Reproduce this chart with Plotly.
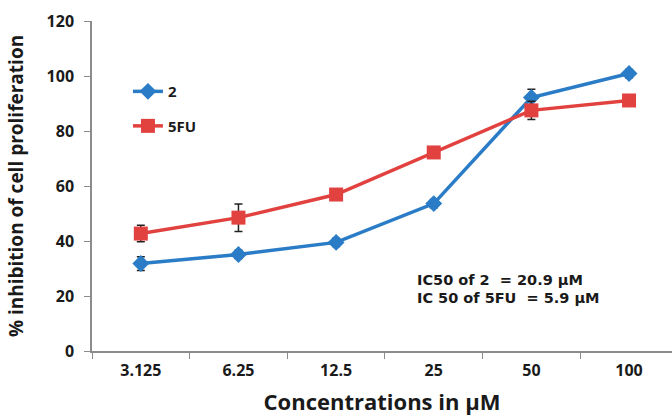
import plotly.graph_objects as go

categories = ["3.125", "6.25", "12.5", "25", "50", "100"]
series_2 = [31.8, 35.1, 39.5, 53.6, 92.2, 100.9]
series_2_err = [2.5, 1.5, 1.5, 1.5, 3.0, 1.5]
series_5fu = [42.7, 48.5, 56.9, 72.2, 87.5, 91.1]
series_5fu_err = [3.0, 5.0, 1.5, 1.5, 3.3, 1.5]
y_ticks = [0, 20, 40, 60, 80, 100, 120]

BLUE = "#2a7cc6"
RED = "#e2423f"
FONT = "Open Sans"
TXT = "#1a1a1a"

fig = go.Figure()
fig.add_trace(go.Scatter(
    x=categories, y=series_2, name="2", mode="lines+markers",
    line=dict(color=BLUE, width=3.5),
    marker=dict(symbol="diamond", size=13, color=BLUE),
    error_y=dict(type="data", array=series_2_err, color="#222", thickness=1.5, width=4),
    legendgroup="a",
))
fig.add_trace(go.Scatter(
    x=categories, y=series_5fu, name="5FU", mode="lines+markers",
    line=dict(color=RED, width=3.5),
    marker=dict(symbol="square", size=14, color=RED),
    error_y=dict(type="data", array=series_5fu_err, color="#222", thickness=1.5, width=4),
    legendgroup="b",
))

fig.add_annotation(x=0.557, y=(351 - 280) / 330, xref="paper", yref="paper", xanchor="left", yanchor="middle",
                   text="IC50 of 2 \u00a0= 20.9 µM", showarrow=False,
                   font=dict(family="DejaVu Sans", size=14.5, color=TXT, weight="bold"))
fig.add_annotation(x=0.557, y=(351 - 297.5) / 330, xref="paper", yref="paper", xanchor="left", yanchor="middle",
                   text="IC 50 of 5FU \u00a0= 5.9 µM", showarrow=False,
                   font=dict(family="DejaVu Sans", size=14.5, color=TXT, weight="bold"))

fig.update_layout(
    width=672, height=416,
    margin=dict(l=92, r=0, t=21, b=65),
    paper_bgcolor="white", plot_bgcolor="white",
    showlegend=True,
    legend=dict(x=0.062, y=0.836, xanchor="left", yanchor="top",
                font=dict(family=FONT, size=15, color=TXT, weight="bold"),
                tracegroupgap=12, bgcolor="rgba(0,0,0,0)"),
    xaxis=dict(type="category", range=[-0.5, 5.44], automargin=False,
               showline=True, linecolor="#8c8c8c", linewidth=1.5,
               ticks="outside", tickson="boundaries", ticklen=6, tickcolor="#8c8c8c",
               showgrid=False, zeroline=False, ticklabelstandoff=4,
               tickfont=dict(family=FONT, size=16, color=TXT, weight="bold"),
               title=dict(text="Concentrations in µM", standoff=19,
                          font=dict(family=FONT, size=22, color=TXT, weight="bold"))),
    yaxis=dict(range=[0, 120], tickvals=y_ticks, automargin=False,
               showline=True, linecolor="#8c8c8c", linewidth=1.5,
               ticks="outside", ticklen=6, tickcolor="#8c8c8c",
               showgrid=False, zeroline=False, ticklabelstandoff=7,
               tickfont=dict(family=FONT, size=16, color=TXT, weight="bold"),
               title=dict(text="% inhibition of cell proliferation", standoff=18,
                          font=dict(family=FONT, size=19, color=TXT, weight="bold"))),
)

fig.write_html("out.html", post_script="document.body.style.margin='0';",
               config={"displayModeBar": False})
